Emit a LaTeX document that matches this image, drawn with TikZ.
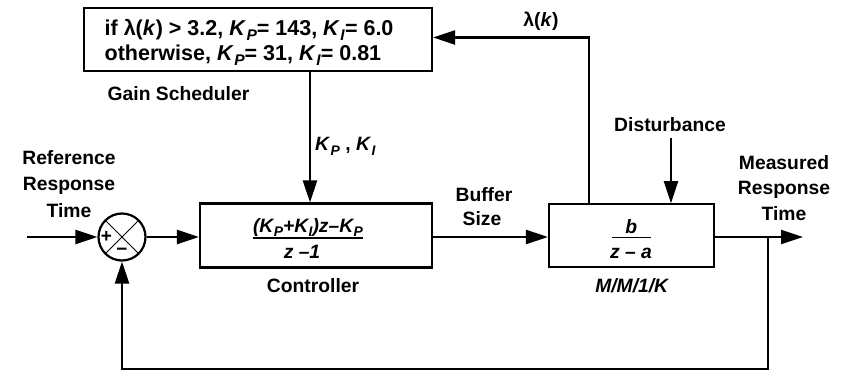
\documentclass[tikz,border=0pt]{standalone}
\usepackage{fontspec}
\usepackage{graphicx}
\setmainfont{Liberation Sans}
\usetikzlibrary{arrows.meta,calc}
\newcommand{\Kb}[1]{\textit{K}\kern0.02em\raisebox{-0.22em}{\scalebox{0.72}{\textit{#1}}}}
\begin{document}
\begin{tikzpicture}[x=1pt,y=-1pt,
  lbl/.style={inner sep=0pt, anchor=base, font=\fontsize{19.3}{26}\selectfont\bfseries},
  glbl/.style={inner sep=0pt, anchor=base west, font=\fontsize{21.5}{25}\selectfont\bfseries},
  blk/.style={draw, line width=2.2pt, inner sep=0pt},
  arr/.style={line width=2.2pt, -{Triangle[length=22pt,width=14pt]}},
  bar/.style={line width=1.6pt},
  thinl/.style={line width=1pt},
  sgn/.style={inner sep=0pt, font=\fontsize{19}{19}\selectfont\bfseries}]
\useasboundingbox (0,0) rectangle (848,371);

% blocks
\node[blk, minimum width=348pt, minimum height=63pt] (gain) at (258,39.5) {};
\node[glbl] (gl1) at (104.5,35.5) {if λ(\textit{k}) > 3.2, \Kb{P}= 143, \Kb{I}= 6.0};
\node[glbl] (gl2) at (104.5,60.5) {otherwise, \Kb{P}= 31, \Kb{I}= 0.81};
\node[lbl] (gname) at (178.5,101) {Gain Scheduler};

\node[blk, minimum width=232pt, minimum height=64pt] (ctrl) at (316,235.5) {};
\node[lbl] (cnum) at (308,232.3) {\itshape (\Kb{P}+\Kb{I})z–\Kb{P}};
\draw[bar] ($(cnum.base west)+(0,6)$) -- ($(cnum.base east)+(0,6)$);
\node[lbl] (cden) at (302,258.3) {\itshape z –1};
\node[lbl] (cname) at (313,292) {Controller};

\node[blk, minimum width=165pt, minimum height=63pt] (plant) at (631.5,235.8) {};
\node[lbl] (pnum) at (631.3,234) {\itshape b};
\node[lbl] (pden) at (631,258.3) {\itshape z – a};
\draw[bar] (611.7,237.7) -- (651,237.7);
\node[lbl] (pname) at (631.7,292) {\itshape M/M/1/K};

% summing junction
\node[draw, circle, line width=2.2pt, minimum size=47pt, inner sep=0pt] (sum) at (122,237) {};
\draw[thinl] ($(sum.center)+(45:23.5)$) -- ($(sum.center)+(225:23.5)$);
\draw[thinl] ($(sum.center)+(135:23.5)$) -- ($(sum.center)+(315:23.5)$);
\node[sgn] (plus) at (106.5,237) {+};
\node[sgn] (minus) at (122,251.5) {−};

% labels
\node[lbl] (r1) at (69,165) {Reference};
\node[lbl] (r2) at (69,190.7) {Response};
\node[lbl] (r3) at (69,217.7) {Time};
\node[lbl] (m1) at (784,169.3) {Measured};
\node[lbl] (m2) at (784,194.3) {Response};
\node[lbl] (m3) at (784,221) {Time};
\node[lbl] (b1) at (484,201.7) {Buffer};
\node[lbl] (b2) at (482,225.7) {Size};
\node[lbl] (dist) at (670,131.7) {Disturbance};
\node[lbl] (lamlbl) at (541,27) {λ(\textit{k})};
\node[lbl, anchor=base west] (klbl) at (315,151) {\Kb{P} , \Kb{I}};

% connectors
\coordinate (in) at (27,237);
\coordinate (kx) at (310,0);
\coordinate (out) at (803,237);
\coordinate (br) at (768,237);
\coordinate (fb) at (768,369);
\coordinate (lam) at (589,37.5);
\coordinate (dtop) at (671,138);

\draw[arr] (in) -- (sum.west);
\draw[arr] (sum.east) -- (sum.east -| ctrl.west);
\draw[arr] (gain.south -| kx) -- (ctrl.north -| kx);
\draw[arr] (ctrl.east |- sum.east) -- (plant.west |- sum.east);
\draw[arr] (plant.east |- out) -- (out);
\draw[arr] (br) -- (fb) -| (sum.south);
\draw[arr] (plant.north -| lam) -- (lam) -- (lam -| gain.east);
\draw[arr] (dtop) -- (dtop |- plant.north);
\end{tikzpicture}
\end{document}
